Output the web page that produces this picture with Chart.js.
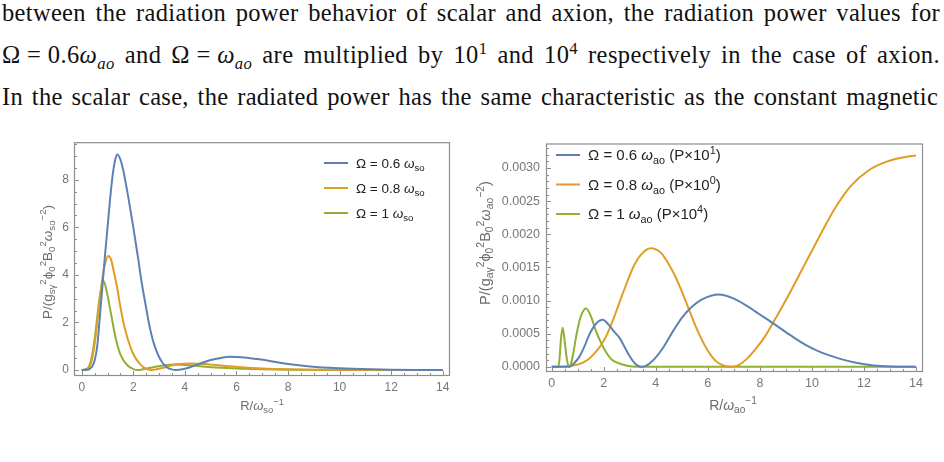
<!DOCTYPE html>
<html>
<head>
<meta charset="utf-8">
<script src="https://cdn.jsdelivr.net/npm/chart.js@4.4.1/dist/chart.umd.min.js"></script>
<style>
  body { margin: 0; width: 944px; height: 462px; background: #fff; overflow: hidden; position: relative; }
  .line { position: absolute; left: 2px; font-family: 'Liberation Serif', serif; font-size: 24.5px; line-height: 24px; white-space: nowrap; color: #111; }
  .line sub, .line sup { font-size: 0.68em; line-height: 0; }
  #box1 { position: absolute; left: 0; top: 130px; width: 470px; height: 290px; }
  #box2 { position: absolute; left: 472px; top: 130px; width: 472px; height: 290px; }
</style>
</head>
<body>
<div class="line" id="l1" style="top:1px">between the radiation power behavior of scalar and axion, the radiation power values for</div>
<div class="line" id="l2" style="top:43px">Ω&#8197;=&#8197;0.6<i>ω</i><sub><i>ao</i></sub> and Ω&#8197;=&#8197;<i>ω</i><sub><i>ao</i></sub> are multiplied by 10<sup>1</sup> and 10<sup>4</sup> respectively in the case of axion.</div>
<div class="line" id="l3" style="top:85px">In the scalar case, the radiated power has the same characteristic as the constant magnetic</div>
<div id="box1"><canvas id="c1"></canvas></div>
<div id="box2"><canvas id="c2"></canvas></div>
<script>
// scalar case (left plot)
const scalarX06 = [0, 0.2, 0.3, 0.4, 0.5, 0.6, 0.7, 0.8, 0.9, 1.0, 1.1, 1.2, 1.3, 1.38, 1.5, 1.6, 1.7, 1.8, 1.9, 2.0, 2.1, 2.2, 2.3, 2.4, 2.5, 2.6, 2.7, 2.8, 2.9, 3.0, 3.1, 3.2, 3.3, 3.45, 3.68, 3.9, 4.2, 4.6, 5.0, 5.4, 5.75, 6.2, 6.8, 7.3, 7.8, 8.5, 9.2, 9.75, 10.5, 11.2, 12, 13, 14];
const scalarY06 = [0, 0.01, 0.04, 0.15, 0.4, 1.0, 2.2, 3.5, 4.8, 6.0, 7.2, 8.2, 8.85, 9.06, 8.85, 8.45, 7.9, 7.3, 6.65, 6.0, 5.3, 4.6, 3.85, 3.2, 2.6, 2.0, 1.5, 1.1, 0.8, 0.55, 0.36, 0.22, 0.12, 0.04, 0.0, 0.03, 0.12, 0.28, 0.42, 0.51, 0.56, 0.54, 0.46, 0.38, 0.29, 0.19, 0.12, 0.09, 0.055, 0.03, 0.015, 0.005, 0];
const scalarX08 = [0, 0.2, 0.3, 0.4, 0.5, 0.6, 0.7, 0.8, 0.9, 1.03, 1.15, 1.25, 1.38, 1.5, 1.64, 1.8, 1.96, 2.1, 2.29, 2.45, 2.7, 2.95, 3.3, 3.7, 4.2, 4.8, 5.5, 6.2, 7, 8, 9, 10, 12, 14];
const scalarY08 = [0, 0.03, 0.15, 0.45, 1.1, 2.0, 3.0, 3.85, 4.45, 4.8, 4.6, 4.1, 3.43, 2.65, 1.89, 1.25, 0.77, 0.48, 0.22, 0.08, 0.0, 0.04, 0.14, 0.24, 0.28, 0.25, 0.18, 0.12, 0.07, 0.035, 0.015, 0.008, 0.002, 0];
const scalarX10 = [0, 0.2, 0.3, 0.4, 0.5, 0.6, 0.7, 0.84, 0.95, 1.12, 1.32, 1.51, 1.77, 2.0, 2.15, 2.4, 2.8, 3.2, 3.55, 4.0, 4.6, 5.2, 6, 7, 8, 10, 14];
const scalarY10 = [0, 0.05, 0.2, 0.6, 1.3, 2.2, 3.1, 3.75, 3.4, 2.45, 1.33, 0.63, 0.2, 0.04, 0.0, 0.04, 0.13, 0.2, 0.23, 0.21, 0.16, 0.11, 0.065, 0.035, 0.018, 0.005, 0];

// axion case (right plot)
const axionX06 = [0, 0.5, 0.68, 0.85, 1.06, 1.25, 1.45, 1.7, 1.96, 2.2, 2.4, 2.6, 2.8, 2.98, 3.2, 3.43, 3.6, 3.9, 4.3, 4.68, 5.0, 5.29, 5.8, 6.41, 7.0, 7.5, 8.0, 8.5, 9.2, 9.81, 10.4, 11.09, 11.7, 12.37, 13, 14];
const axionY06 = [0, 0, 0, 0.00005, 0.00015, 0.0003, 0.00049, 0.00065, 0.00071, 0.00063, 0.00053, 0.00044, 0.0003, 0.00017, 0.00005, 0, 0.00001, 0.0001, 0.0003, 0.00055, 0.00074, 0.00087, 0.00102, 0.00109, 0.00103, 0.00092, 0.00079, 0.00066, 0.00047, 0.00032, 0.00021, 0.00012, 0.00006, 0.00002, 0.000005, 0];
const axionX08 = [0, 0.5, 0.8, 1.06, 1.4, 1.7, 1.9, 2.09, 2.35, 2.63, 2.9, 3.14, 3.45, 3.8, 4.2, 4.68, 5.0, 5.29, 5.6, 5.96, 6.3, 6.6, 6.9, 7.2, 7.5, 7.88, 8.2, 8.5, 9.17, 9.81, 10.32, 10.9, 11.5, 12.2, 12.9, 13.5, 14];
const axionY08 = [0, 0.000005, 0.00002, 0.00004, 0.00011, 0.00023, 0.00033, 0.00046, 0.0007, 0.001, 0.00128, 0.00151, 0.0017, 0.00179, 0.00172, 0.00142, 0.00114, 0.00085, 0.00055, 0.00027, 0.00009, 0.00002, 0, 0.00003, 0.00012, 0.00029, 0.00046, 0.00066, 0.00113, 0.00161, 0.00199, 0.0024, 0.00273, 0.00297, 0.0031, 0.00316, 0.00319];
const axionX10 = [0, 0.25, 0.3, 0.35, 0.42, 0.5, 0.58, 0.66, 0.75, 0.85, 0.93, 1.1, 1.32, 1.5, 1.7, 1.9, 2.09, 2.3, 2.47, 2.86, 3.3, 14];
const axionY10 = [0, 0, 0.00012, 0.0004, 0.00059, 0.00038, 0.00012, 0, 0.00006, 0.00025, 0.00044, 0.00074, 0.00088, 0.00077, 0.00054, 0.00036, 0.00022, 0.00011, 0.00007, 0.00002, 0, 0];

const xTicks = [0, 2, 4, 6, 8, 10, 12, 14];
const scalarYTicks = [0, 2, 4, 6, 8];
const axionYTicks = [0, 0.0005, 0.001, 0.0015, 0.002, 0.0025, 0.003];

const blue = '#5e81b5';
const orange = '#e19c24';
const green = '#8fb032';
const sans = "'Liberation Sans', Arial, sans-serif";

function pts(xs, ys) {
  return xs.map((x, i) => ({x: x, y: ys[i]}));
}

// stretch a text line to the paragraph width, partly through letters, partly through spaces
function fitLine(id, width) {
  let el = document.getElementById(id);
  let text = el.textContent;
  let spaces = (text.match(/ /g) || []).length;
  let extra = width - el.getBoundingClientRect().width;
  let ls = extra * 0.4 / text.length;
  el.style.letterSpacing = ls.toFixed(3) + 'px';
  let left = width - el.getBoundingClientRect().width;
  el.style.wordSpacing = (left / spaces).toFixed(2) + 'px';
}
fitLine('l1', 938);
fitLine('l2', 938);
fitLine('l3', 936);

function fontFor(style, size) {
  if (style === 'i') return 'italic ' + size + 'px ' + sans;
  if (style === 'sub' || style === 'sup') return (size * 0.72).toFixed(1) + 'px ' + sans;
  return size + 'px ' + sans;
}

// draws text made of pieces: [text, 'n' | 'i' | 'sub' | 'sup']
function drawRich(ctx, parts, x, y, size, align) {
  let w = 0;
  for (const p of parts) {
    ctx.font = fontFor(p[1], size);
    w += ctx.measureText(p[0]).width;
  }
  let cx = align === 'center' ? x - w / 2 : x;
  ctx.textAlign = 'left';
  ctx.textBaseline = 'alphabetic';
  for (const p of parts) {
    ctx.font = fontFor(p[1], size);
    let dy = 0;
    if (p[1] === 'sub') dy = size * 0.24;
    if (p[1] === 'sup') dy = -size * 0.42;
    ctx.fillText(p[0], cx, y + dy);
    cx += ctx.measureText(p[0]).width;
  }
}

const framePlugin = {
  id: 'frame',
  beforeDatasetsDraw(chart, args, opts) {
    let ctx = chart.ctx;
    let a = chart.chartArea;
    let xs = chart.scales.x;
    let ys = chart.scales.y;
    ctx.save();
    ctx.strokeStyle = '#8e8e8e';
    ctx.lineWidth = 1.2;
    ctx.strokeRect(a.left + 0.5, a.top + 0.5, a.width - 1, a.height - 1);
    ctx.lineWidth = 1;
    ctx.beginPath();
    for (let k = Math.ceil(xs.min / opts.xMinor); k * opts.xMinor <= xs.max; k++) {
      let v = k * opts.xMinor;
      let major = xTicks.some(m => Math.abs(m - v) < 1e-9);
      let px = Math.round(xs.getPixelForValue(v)) + 0.5;
      ctx.moveTo(px, a.bottom);
      ctx.lineTo(px, a.bottom - (major ? 5 : 3));
    }
    for (let k = Math.ceil(ys.min / opts.yMinor - 1e-6); k * opts.yMinor <= ys.max; k++) {
      let v = k * opts.yMinor;
      let major = opts.yMajor.some(m => Math.abs(m - v) < opts.yMinor / 10);
      let py = Math.round(ys.getPixelForValue(v)) + 0.5;
      ctx.moveTo(a.left, py);
      ctx.lineTo(a.left + (major ? 5 : 3), py);
    }
    ctx.stroke();
    ctx.restore();
  },
  afterDraw(chart, args, opts) {
    let ctx = chart.ctx;
    ctx.save();
    // legend
    let lg = opts.legend;
    chart.data.datasets.forEach((ds, i) => {
      let y = lg.y + i * lg.dy;
      ctx.strokeStyle = ds.borderColor;
      ctx.lineWidth = 2;
      ctx.beginPath();
      ctx.moveTo(lg.x, y);
      ctx.lineTo(lg.x + 24, y);
      ctx.stroke();
      ctx.fillStyle = '#222';
      drawRich(ctx, lg.labels[i], lg.x + 32, y + lg.size * 0.36, lg.size, 'left');
    });
    // axis titles
    ctx.fillStyle = '#6b6b6b';
    drawRich(ctx, opts.xTitle.parts, opts.xTitle.x, opts.xTitle.y, opts.xTitle.size, 'center');
    ctx.translate(opts.yTitle.x, opts.yTitle.y);
    ctx.rotate(-Math.PI / 2);
    drawRich(ctx, opts.yTitle.parts, 0, 0, opts.yTitle.size, 'center');
    ctx.restore();
  }
};

function makeChart(canvasId, sets, cfg) {
  return new Chart(document.getElementById(canvasId), {
    type: 'line',
    data: {
      datasets: sets.map(s => ({
        data: s.data,
        borderColor: s.color,
        borderWidth: 2,
        pointRadius: 0,
        fill: false,
        cubicInterpolationMode: 'monotone'
      }))
    },
    options: {
      responsive: true,
      maintainAspectRatio: false,
      animation: false,
      devicePixelRatio: 1,
      layout: { padding: cfg.padding },
      plugins: {
        legend: { display: false },
        tooltip: { enabled: false },
        frame: cfg.frame
      },
      scales: {
        x: {
          type: 'linear',
          min: cfg.xMin,
          max: cfg.xMax,
          grid: { display: false, drawTicks: false, tickLength: 0 },
          border: { display: false },
          afterBuildTicks: scale => { scale.ticks = xTicks.map(v => ({value: v})); },
          afterFit: scale => { scale.height = cfg.xHeight; },
          ticks: { color: '#777', padding: 4, maxRotation: 0, font: { family: sans, size: cfg.tickSize } }
        },
        y: {
          min: cfg.yMin,
          max: cfg.yMax,
          grid: { display: false, drawTicks: false, tickLength: 0 },
          border: { display: false },
          afterBuildTicks: scale => { scale.ticks = cfg.yTicks.map(v => ({value: v})); },
          afterFit: scale => { scale.width = cfg.yWidth; },
          ticks: { color: '#777', padding: cfg.yPad, font: { family: sans, size: cfg.tickSize }, callback: cfg.yFormat }
        }
      }
    },
    plugins: [framePlugin]
  });
}

makeChart('c1', [
  { data: pts(scalarX06, scalarY06), color: blue },
  { data: pts(scalarX08, scalarY08), color: orange },
  { data: pts(scalarX10, scalarY10), color: green }
], {
  padding: { left: 0, right: 20, top: 12, bottom: 0 },
  xMin: -0.3, xMax: 14.28, yMin: -0.25, yMax: 9.58,
  xHeight: 44, yWidth: 74, yPad: 5, tickSize: 12,
  yTicks: scalarYTicks,
  yFormat: v => String(v),
  frame: {
    xMinor: 0.5, yMinor: 0.5, yMajor: scalarYTicks,
    legend: {
      x: 324, y: 33, dy: 25, size: 13.5,
      labels: [
        [['Ω = 0.6 ', 'n'], ['ω', 'i'], ['so', 'sub']],
        [['Ω = 0.8 ', 'n'], ['ω', 'i'], ['so', 'sub']],
        [['Ω = 1 ', 'n'], ['ω', 'i'], ['so', 'sub']]
      ]
    },
    xTitle: { x: 262, y: 280, size: 13, parts: [['R/', 'n'], ['ω', 'i'], ['so', 'sub'], ['−1', 'sup']] },
    yTitle: { x: 52, y: 132, size: 13.5, parts: [['P/(g', 'n'], ['sγ', 'sub'], ['2', 'sup'], ['ϕ', 'n'], ['0', 'sub'], ['2', 'sup'], ['B', 'n'], ['0', 'sub'], ['2', 'sup'], ['ω', 'i'], ['so', 'sub'], ['−2', 'sup'], [')', 'n']] }
  }
});

makeChart('c2', [
  { data: pts(axionX06, axionY06), color: blue },
  { data: pts(axionX08, axionY08), color: orange },
  { data: pts(axionX10, axionY10), color: green }
], {
  padding: { left: 0, right: 21, top: 7, bottom: 0 },
  xMin: -0.22, xMax: 14.27, yMin: -0.000078, yMax: 0.00337,
  xHeight: 48, yWidth: 74, yPad: 6, tickSize: 12.5,
  yTicks: axionYTicks,
  yFormat: v => v.toFixed(4),
  frame: {
    xMinor: 0.5, yMinor: 0.0001, yMajor: axionYTicks,
    legend: {
      x: 84, y: 25, dy: 29.5, size: 15,
      labels: [
        [['Ω = 0.6 ', 'n'], ['ω', 'i'], ['ao', 'sub'], [' (P×10', 'n'], ['1', 'sup'], [')', 'n']],
        [['Ω = 0.8 ', 'n'], ['ω', 'i'], ['ao', 'sub'], [' (P×10', 'n'], ['0', 'sup'], [')', 'n']],
        [['Ω = 1 ', 'n'], ['ω', 'i'], ['ao', 'sub'], [' (P×10', 'n'], ['4', 'sup'], [')', 'n']]
      ]
    },
    xTitle: { x: 261, y: 280, size: 14, parts: [['R/', 'n'], ['ω', 'i'], ['ao', 'sub'], ['−1', 'sup']] },
    yTitle: { x: 18, y: 113, size: 14.5, parts: [['P/(g', 'n'], ['aγ', 'sub'], ['2', 'sup'], ['ϕ', 'n'], ['0', 'sub'], ['2', 'sup'], ['B', 'n'], ['0', 'sub'], ['2', 'sup'], ['ω', 'i'], ['ao', 'sub'], ['−2', 'sup'], [')', 'n']] }
  }
});
</script>
</body>
</html>
